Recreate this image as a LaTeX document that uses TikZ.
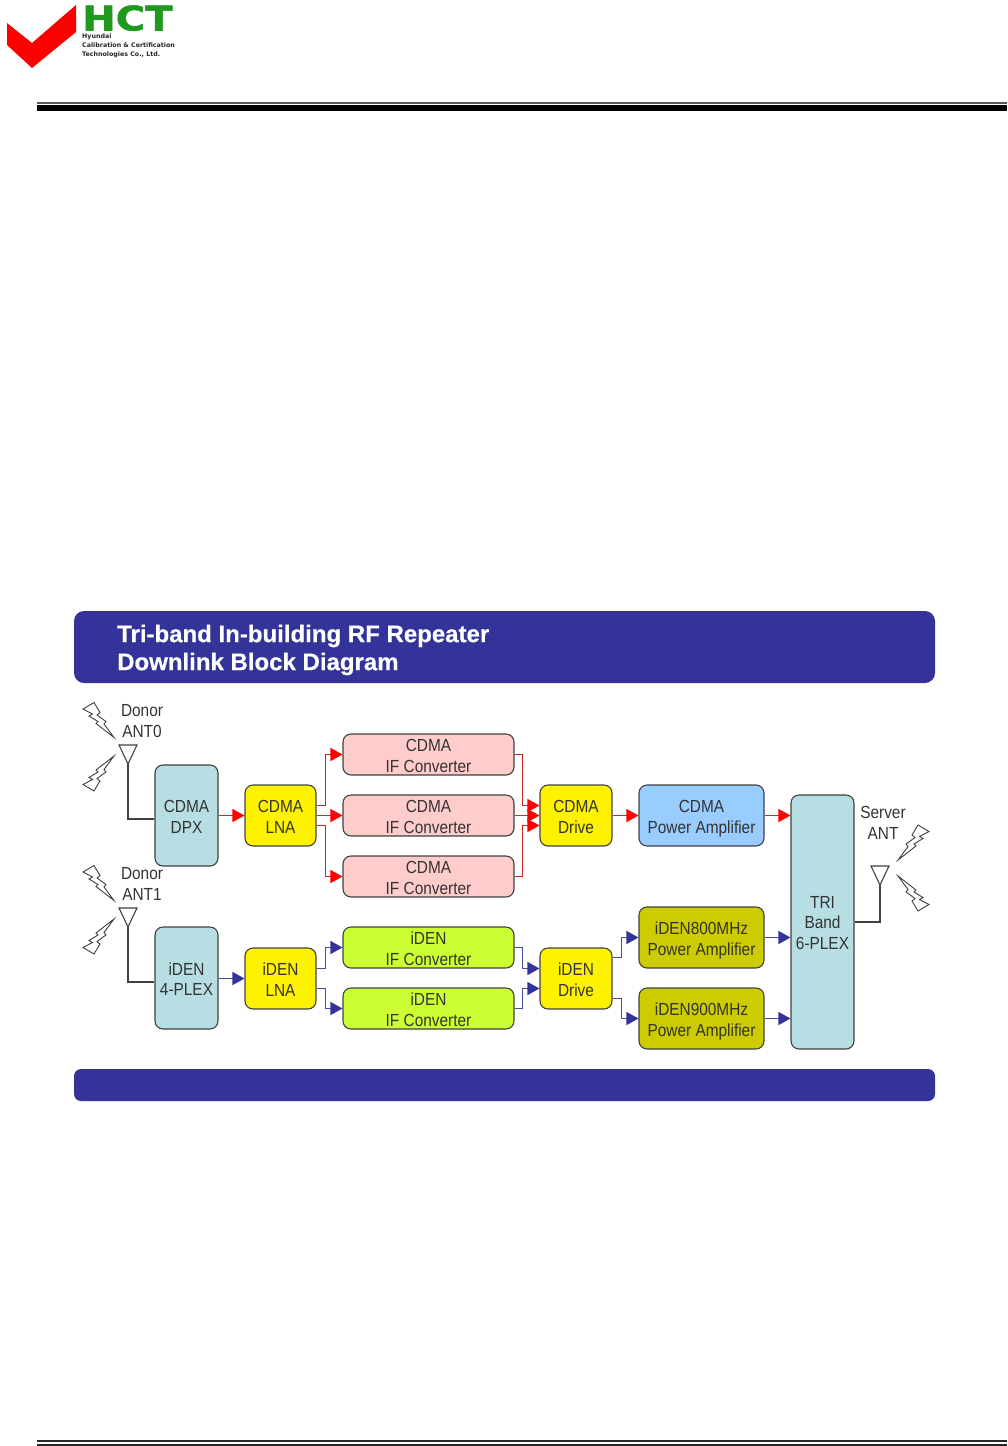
\documentclass[tikz,border=0pt]{standalone}
\usepackage{fontspec}
\setmainfont{Liberation Sans}
\newfontfamily\blockfont[FakeStretch=0.88]{Liberation Sans}
\newfontfamily\logofont[FakeBold=1.5]{DejaVu Sans Bold}
\newfontfamily\smalllogofont{DejaVu Sans Bold}
\newfontfamily\titlefont[FakeBold=0.4]{Liberation Sans Bold}
\usetikzlibrary{arrows.meta}
\definecolor{bandblue}{HTML}{333399}
\definecolor{plexteal}{HTML}{B7DEE3}
\definecolor{ifpink}{HTML}{FFCCCC}
\definecolor{pablue}{HTML}{99CCFF}
\definecolor{ifgreen}{HTML}{CCFF33}
\definecolor{paolive}{HTML}{CCCC00}
\definecolor{logogreen}{HTML}{1F9A1F}
\definecolor{edgegrey}{HTML}{404040}
\definecolor{redline}{HTML}{D02828}
\definecolor{blueline}{HTML}{4A4A9E}
\tikzset{
  blockbox/.style = {draw = edgegrey, line width = 1.1pt, rounded corners = 8pt,
                     inner sep = 0pt, align = center, text = black!80,
                     font = \blockfont\fontsize{17.5}{20.5}\selectfont},
  tallbox/.style = {blockbox,
                    execute at begin node = \rule{0pt}{39.1pt},
                    execute at end node = \rule[-3.7pt]{0pt}{3.7pt}},
  plexbox/.style = {tallbox, fill = plexteal, minimum width = 63pt},
  drivebox/.style = {tallbox, fill = yellow, minimum width = 72pt, minimum height = 61pt},
  ifbox/.style = {blockbox, minimum width = 171pt, minimum height = 41pt,
                  execute at begin node = \rule{0pt}{35.4pt}},
  pabox/.style = {tallbox, minimum width = 125pt, minimum height = 61pt},
  antlabel/.style = {align = center, inner sep = 0pt, text = black!80,
                     font = \blockfont\fontsize{17.5}{20.5}\selectfont},
  band/.style = {fill = bandblue, inner sep = 0pt, minimum width = 861pt},
  redarrow/.style = {draw = redline, line width = 1.2pt,
                     -{Triangle[length = 12pt, width = 13pt, color = red]}},
  bluearrow/.style = {draw = blueline, line width = 1.2pt,
                      -{Triangle[length = 12pt, width = 13pt, color = bandblue]}},
  antline/.style = {draw = edgegrey, line width = 1.1pt},
  bolt/.pic = {
    \draw [line width = .9pt, edgegrey] (-31,-28.5) -- (-20,-35) -- (-14,-25) -- (-17,-22.5)
      -- (-8,-16) -- (-10,-13.5) -- (0,0) -- (-18,-14) -- (-16,-16) -- (-25,-21.5)
      -- (-21.5,-23.5) -- cycle;
  }
}
\begin{document}
\begin{tikzpicture}[x = 1pt, y = -1pt]
  \useasboundingbox (0,0) rectangle (1007,1446);

  % logo and page rules
  \fill [red] (7,23) -- (32,43) -- (76,5) -- (76,32) -- (32,68) -- (7,45) -- cycle;
  \node [logogreen, inner sep = 0pt, anchor = base west, font = \logofont\fontsize{34}{34}\selectfont] (hct) at (82,30.5)
    {\scalebox{1.18}[1]{HCT}};
  \node [anchor = north west, inner sep = 0pt, align = left, text = black!85,
         font = \smalllogofont\fontsize{6.3}{9}\selectfont] (hyundai) at (82,34)
    {Hyundai\\ Calibration \& Certification\\ Technologies Co., Ltd.};
  \fill [black!65] (37,102) rectangle (1007,104);
  \fill [black] (37,105) rectangle (1007,110.5);
  \fill [black!85] (37,1439.5) rectangle (1007,1441.5);
  \fill [black!85] (37,1443.5) rectangle (1007,1445.5);

  % title bands
  \node [band, rounded corners = 10pt, minimum height = 72pt] (title) at (504.5,647) {};
  \node [anchor = west, inner sep = 0pt, align = left, white,
         font = \titlefont\fontsize{24}{28}\selectfont] (titletext) at (117,650)
    {Tri-band In-building RF Repeater\\ Downlink Block Diagram};
  \node [band, rounded corners = 7pt, minimum height = 32pt] (footer) at (504.5,1085) {};

  % cdma row
  \node [plexbox, minimum height = 101pt] (cdmadpx) at (186.5,815.5) {CDMA\\ DPX};
  \node [drivebox, minimum width = 71pt] (cdmalna) at (280.5,815.5) {CDMA\\ LNA};
  \node [ifbox, fill = ifpink] (cdmaifa) at (428.5,754.5) {CDMA\\ IF Converter};
  \node [ifbox, fill = ifpink] (cdmaifb) at (428.5,815.5) {CDMA\\ IF Converter};
  \node [ifbox, fill = ifpink] (cdmaifc) at (428.5,876.5) {CDMA\\ IF Converter};
  \node [drivebox] (cdmadrive) at (576,815.5) {CDMA\\ Drive};
  \node [pabox, fill = pablue] (cdmapa) at (701.5,815.5) {CDMA\\ Power Amplifier};

  % iden row
  \node [plexbox, minimum height = 102pt] (idenplex) at (186.5,978) {iDEN\\ 4-PLEX};
  \node [drivebox, minimum width = 71pt] (idenlna) at (280.5,978.5) {iDEN\\ LNA};
  \node [ifbox, fill = ifgreen] (idenifa) at (428.5,947.5) {iDEN\\ IF Converter};
  \node [ifbox, fill = ifgreen] (idenifb) at (428.5,1008.5) {iDEN\\ IF Converter};
  \node [drivebox] (idendrive) at (576,978.5) {iDEN\\ Drive};
  \node [pabox, fill = paolive] (idenpaa) at (701.5,937.5) {iDEN800MHz\\ Power Amplifier};
  \node [pabox, fill = paolive] (idenpab) at (701.5,1018.5) {iDEN900MHz\\ Power Amplifier};

  \node [plexbox, minimum height = 254pt, execute at begin node = \rule{0pt}{58.3pt}]
    (triband) at (822.5,922) {TRI\\ Band\\ 6-PLEX};

  % cdma connectors
  \draw [redarrow] (cdmadpx) -- (cdmalna);
  \draw [redarrow] ([yshift = 10pt]cdmalna.east) -- ++(9,0) |- (cdmaifa.west);
  \draw [redarrow] (cdmalna) -- (cdmaifb);
  \draw [redarrow] ([yshift = -10pt]cdmalna.east) -- ++(9,0) |- (cdmaifc.west);
  \draw [redarrow] (cdmaifa.east) -- ++(8,0) |- ([yshift = 10pt]cdmadrive.west);
  \draw [redarrow] (cdmaifb) -- (cdmadrive);
  \draw [redarrow] (cdmaifc.east) -- ++(8,0) |- ([yshift = -10pt]cdmadrive.west);
  \draw [redarrow] (cdmadrive) -- (cdmapa);
  \draw [redarrow] (cdmapa.east) -- (cdmapa.east -| triband.west);

  % iden connectors
  \draw [bluearrow] (idenplex.east |- idenlna.west) -- (idenlna.west);
  \draw [bluearrow] ([yshift = 10pt]idenlna.east) -- ++(9,0) |- (idenifa.west);
  \draw [bluearrow] ([yshift = -10pt]idenlna.east) -- ++(9,0) |- (idenifb.west);
  \draw [bluearrow] (idenifa.east) -- ++(8,0) |- ([yshift = 10pt]idendrive.west);
  \draw [bluearrow] (idenifb.east) -- ++(8,0) |- ([yshift = -10pt]idendrive.west);
  \draw [bluearrow] ([yshift = 21pt]idendrive.east) -- ++(9,0) |- (idenpaa.west);
  \draw [bluearrow] ([yshift = -20pt]idendrive.east) -- ++(9,0) |- (idenpab.west);
  \draw [bluearrow] (idenpaa.east) -- (idenpaa.east -| triband.west);
  \draw [bluearrow] (idenpab.east) -- (idenpab.east -| triband.west);

  % antennas
  \coordinate (antzero) at (128,764);
  \coordinate (antone) at (128,927);
  \coordinate (antserver) at (880,885);
  \draw [antline] (antzero) -- ++(-9,-19) -- ++(18,0) -- cycle;
  \draw [antline] (antone) -- ++(-9,-19) -- ++(18,0) -- cycle;
  \draw [antline] (antserver) -- ++(-9,-19) -- ++(18,0) -- cycle;
  \draw [antline] (antzero) |- ([yshift = -3.5pt]cdmadpx.west);
  \draw [antline] (antone) |- ([yshift = -4pt]idenplex.west);
  \draw [antline] (antserver) |- (triband.east);

  \node [antlabel] (donorzero) at (142,721) {Donor\\ ANT0};
  \node [antlabel] (donorone) at (142,884) {Donor\\ ANT1};
  \node [antlabel] (server) at (883,823) {Server\\ ANT};

  % lightning
  \pic at (114,737.5) {bolt};
  \pic [yscale = -1] at (114,756) {bolt};
  \pic at (114,900.5) {bolt};
  \pic [yscale = -1] at (114,919) {bolt};
  \pic [xscale = -1] at (898,860) {bolt};
  \pic [xscale = -1, yscale = -1] at (898,876) {bolt};
\end{tikzpicture}
\end{document}
